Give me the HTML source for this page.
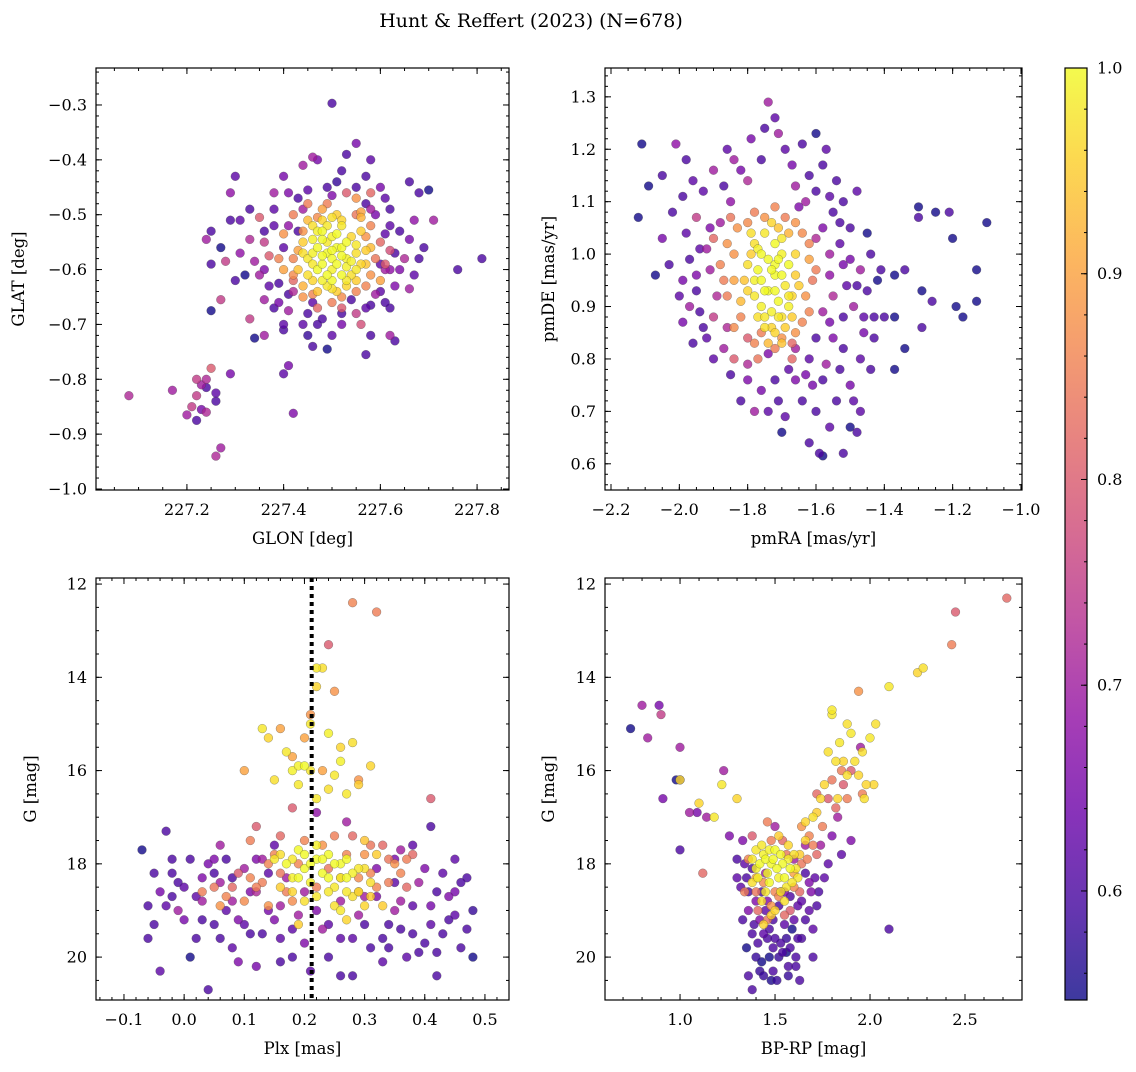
<!DOCTYPE html>
<html><head><meta charset="utf-8"><style>
body{margin:0;background:#fff}
svg text{font-family:"DejaVu Serif","Liberation Serif",serif;fill:#000}
</style></head><body>
<svg id="fig" width="1136" height="1067" viewBox="0 0 1136 1067" xmlns="http://www.w3.org/2000/svg">
<defs><linearGradient id="cbg" x1="0" y1="1" x2="0" y2="0">
<stop offset="0" stop-color="#0d0887"/><stop offset="0.1" stop-color="#41049d"/><stop offset="0.2" stop-color="#6a00a8"/><stop offset="0.3" stop-color="#8f0da4"/><stop offset="0.4" stop-color="#b12a90"/><stop offset="0.5" stop-color="#cc4778"/><stop offset="0.6" stop-color="#e16462"/><stop offset="0.7" stop-color="#f2844b"/><stop offset="0.8" stop-color="#fca636"/><stop offset="0.9" stop-color="#fcce25"/><stop offset="1" stop-color="#f0f921"/>
</linearGradient></defs>
<text x="531" y="27" font-size="19" text-anchor="middle">Hunt &amp; Reffert (2023) (N=678)</text>
</svg>
<script>
const posStars=[[227.50,-0.297,0.6],[227.55,-0.37,0.65],[227.53,-0.39,0.6],[227.47,-0.40,0.65],[227.44,-0.41,0.7],[227.46,-0.395,0.7],[227.58,-0.40,0.62],[227.52,-0.42,0.6],[227.30,-0.43,0.62],[227.40,-0.43,0.65],[227.57,-0.43,0.6],[227.66,-0.44,0.6],[227.70,-0.455,0.55],[227.68,-0.46,0.6],[227.29,-0.46,0.68],[227.38,-0.46,0.7],[227.49,-0.45,0.6],[227.61,-0.47,0.62],[227.62,-0.49,0.6],[227.58,-0.49,0.7],[227.33,-0.49,0.6],[227.29,-0.51,0.6],[227.31,-0.51,0.62],[227.35,-0.505,0.8],[227.71,-0.51,0.7],[227.67,-0.51,0.68],[227.64,-0.53,0.6],[227.25,-0.53,0.6],[227.38,-0.52,0.62],[227.24,-0.545,0.7],[227.33,-0.545,0.72],[227.36,-0.55,0.75],[227.66,-0.545,0.65],[227.69,-0.56,0.6],[227.27,-0.56,0.55],[227.31,-0.57,0.68],[227.34,-0.585,0.7],[227.25,-0.59,0.6],[227.28,-0.585,0.75],[227.65,-0.58,0.72],[227.68,-0.58,0.6],[227.60,-0.59,0.62],[227.76,-0.60,0.6],[227.81,-0.58,0.6],[227.32,-0.61,0.55],[227.36,-0.60,0.66],[227.61,-0.60,0.7],[227.67,-0.61,0.62],[227.39,-0.625,0.6],[227.30,-0.62,0.6],[227.63,-0.63,0.66],[227.66,-0.635,0.7],[227.42,-0.64,0.72],[227.60,-0.64,0.62],[227.36,-0.655,0.7],[227.27,-0.655,0.75],[227.38,-0.67,0.6],[227.41,-0.675,0.7],[227.45,-0.68,0.6],[227.55,-0.68,0.75],[227.58,-0.665,0.6],[227.62,-0.67,0.6],[227.25,-0.675,0.55],[227.33,-0.69,0.75],[227.40,-0.70,0.62],[227.47,-0.70,0.6],[227.52,-0.70,0.65],[227.56,-0.70,0.78],[227.58,-0.72,0.6],[227.34,-0.725,0.55],[227.45,-0.72,0.58],[227.50,-0.72,0.62],[227.62,-0.72,0.7],[227.63,-0.73,0.6],[227.49,-0.745,0.55],[227.57,-0.755,0.6],[227.46,-0.74,0.6],[227.36,-0.72,0.7],[227.40,-0.71,0.6],[227.42,-0.862,0.66],[227.41,-0.775,0.65],[227.40,-0.79,0.62],[227.29,-0.79,0.65],[227.25,-0.78,0.8],[227.24,-0.80,0.72],[227.23,-0.81,0.7],[227.22,-0.80,0.75],[227.24,-0.815,0.6],[227.26,-0.825,0.62],[227.17,-0.82,0.7],[227.08,-0.83,0.72],[227.26,-0.84,0.6],[227.22,-0.83,0.75],[227.23,-0.855,0.65],[227.24,-0.86,0.72],[227.20,-0.865,0.7],[227.22,-0.875,0.6],[227.27,-0.925,0.7],[227.26,-0.94,0.72],[227.21,-0.85,0.75],
[227.40,-0.535,0.88],[227.42,-0.50,0.85],[227.45,-0.48,0.85],[227.55,-0.47,0.88],[227.58,-0.52,0.86],[227.60,-0.55,0.82],[227.58,-0.61,0.88],[227.55,-0.64,0.86],[227.50,-0.66,0.85],[227.44,-0.65,0.88],[227.42,-0.62,0.82],[227.39,-0.58,0.86],[227.43,-0.565,0.9],[227.56,-0.495,0.9],[227.37,-0.575,0.8],[227.62,-0.565,0.78],[227.52,-0.67,0.8],[227.47,-0.67,0.82],[227.40,-0.60,0.9],[227.60,-0.62,0.9],[227.53,-0.46,0.8],[227.48,-0.49,0.9],[227.58,-0.46,0.82],
[227.46,-0.52,0.97],[227.48,-0.53,1.0],[227.50,-0.54,0.99],[227.52,-0.52,0.98],[227.54,-0.54,0.96],[227.47,-0.56,1.0],[227.49,-0.57,1.0],[227.51,-0.56,1.0],[227.53,-0.58,0.99],[227.55,-0.57,0.97],[227.45,-0.58,0.98],[227.47,-0.60,1.0],[227.50,-0.60,0.99],[227.52,-0.61,1.0],[227.54,-0.61,0.97],[227.46,-0.62,0.96],[227.49,-0.63,0.98],[227.51,-0.64,0.95],[227.44,-0.55,0.95],[227.56,-0.53,0.95],[227.48,-0.51,0.96],[227.50,-0.58,1.0],[227.52,-0.56,1.0],[227.48,-0.59,1.0],[227.53,-0.595,0.99],[227.46,-0.545,0.99],[227.57,-0.59,0.94],[227.43,-0.60,0.94],[227.51,-0.50,0.95],[227.49,-0.55,0.98],[227.55,-0.60,0.98],[227.47,-0.64,0.94],[227.53,-0.63,0.96],[227.45,-0.51,0.93],[227.58,-0.56,0.93],[227.50,-0.62,1.0],[227.44,-0.63,0.92],[227.56,-0.505,0.92]];
const posStarsExtra=[[227.43,-0.47,0.6],[227.45,-0.455,0.62],[227.51,-0.44,0.58],[227.55,-0.45,0.6],[227.60,-0.45,0.65],[227.62,-0.52,0.62],[227.63,-0.57,0.6],[227.64,-0.60,0.66],[227.61,-0.66,0.6],[227.57,-0.67,0.62],[227.52,-0.68,0.6],[227.48,-0.69,0.6],[227.44,-0.70,0.62],[227.39,-0.66,0.65],[227.37,-0.63,0.62],[227.35,-0.61,0.7],[227.36,-0.53,0.6],[227.38,-0.49,0.62],[227.41,-0.46,0.66],[227.43,-0.53,0.6],[227.57,-0.48,0.6],[227.59,-0.50,0.65],[227.61,-0.535,0.62],[227.62,-0.60,0.68],[227.59,-0.645,0.7],[227.54,-0.655,0.6],[227.46,-0.66,0.62],[227.41,-0.645,0.6],[227.40,-0.56,0.62],[227.41,-0.52,0.68],[227.44,-0.49,0.7],[227.50,-0.465,0.66],
[227.42,-0.58,0.86],[227.44,-0.53,0.88],[227.47,-0.505,0.87],[227.57,-0.54,0.88],[227.59,-0.58,0.84],[227.57,-0.63,0.86],[227.52,-0.65,0.87],[227.46,-0.645,0.86],[227.42,-0.61,0.87],[227.55,-0.50,0.84],[227.49,-0.48,0.85],[227.61,-0.59,0.8],
[227.47,-0.53,0.99],[227.49,-0.52,0.98],[227.51,-0.535,1.0],[227.53,-0.55,1.0],[227.55,-0.555,0.98],[227.48,-0.545,1.0],[227.50,-0.565,1.0],[227.46,-0.57,0.99],[227.48,-0.575,1.0],[227.52,-0.575,1.0],[227.54,-0.585,0.99],[227.46,-0.59,0.98],[227.49,-0.61,1.0],[227.51,-0.59,1.0],[227.53,-0.62,0.98],[227.48,-0.62,0.99],[227.50,-0.635,0.97],[227.56,-0.59,0.96],[227.44,-0.57,0.97],[227.55,-0.62,0.95],[227.45,-0.61,0.97],[227.52,-0.51,0.96],[227.50,-0.505,0.97],[227.57,-0.565,0.95]];
const pmStars=[[-2.11,1.21,0.55],[-2.01,1.21,0.68],[-1.98,1.18,0.6],[-1.86,1.2,0.62],[-1.84,1.18,0.7],[-1.79,1.22,0.65],[-1.75,1.24,0.6],[-1.74,1.29,0.7],[-1.72,1.26,0.62],[-1.71,1.23,0.7],[-1.64,1.21,0.6],[-1.60,1.23,0.55],[-1.57,1.20,0.62],[-1.67,1.17,0.65],[-1.62,1.15,0.6],[-1.96,1.14,0.62],[-2.05,1.15,0.6],[-2.09,1.13,0.55],[-1.90,1.16,0.7],[-1.80,1.14,0.72],[-1.54,1.14,0.6],[-1.52,1.10,0.6],[-1.48,1.12,0.62],[-1.55,1.08,0.6],[-2.12,1.07,0.55],[-2.02,1.08,0.6],[-1.95,1.07,0.75],[-1.98,1.04,0.62],[-2.05,1.03,0.65],[-1.92,1.01,0.7],[-1.97,0.99,0.6],[-2.03,0.98,0.6],[-2.07,0.96,0.55],[-1.99,0.95,0.65],[-1.95,0.93,0.6],[-1.91,0.97,0.7],[-1.89,0.92,0.72],[-1.94,0.89,0.6],[-1.99,0.87,0.65],[-1.96,0.83,0.6],[-1.92,0.84,0.62],[-1.87,0.82,0.7],[-1.84,0.80,0.8],[-1.80,0.79,0.72],[-1.76,0.74,0.65],[-1.78,0.70,0.7],[-1.82,0.72,0.6],[-1.72,0.76,0.6],[-1.69,0.69,0.62],[-1.70,0.66,0.55],[-1.64,0.72,0.6],[-1.61,0.75,0.65],[-1.60,0.70,0.6],[-1.59,0.62,0.6],[-1.58,0.615,0.55],[-1.56,0.67,0.62],[-1.52,0.62,0.6],[-1.54,0.72,0.6],[-1.50,0.67,0.55],[-1.48,0.66,0.6],[-1.47,0.70,0.62],[-1.50,0.75,0.65],[-1.53,0.78,0.6],[-1.57,0.79,0.7],[-1.52,0.82,0.6],[-1.47,0.80,0.62],[-1.44,0.78,0.6],[-1.46,0.85,0.65],[-1.43,0.88,0.6],[-1.49,0.90,0.7],[-1.45,0.93,0.6],[-1.42,0.95,0.55],[-1.41,0.97,0.6],[-1.47,0.97,0.7],[-1.50,0.99,0.65],[-1.44,1.00,0.6],[-1.53,1.02,0.62],[-1.50,1.05,0.6],[-1.45,1.04,0.55],[-1.37,0.96,0.55],[-1.34,0.97,0.6],[-1.37,0.88,0.55],[-1.37,0.78,0.55],[-1.30,1.09,0.55],[-1.30,1.07,0.6],[-1.25,1.08,0.55],[-1.21,1.08,0.6],[-1.20,1.03,0.55],[-1.29,0.93,0.55],[-1.26,0.91,0.6],[-1.29,0.86,0.6],[-1.19,0.90,0.55],[-1.17,0.88,0.55],[-1.13,0.91,0.55],[-1.13,0.97,0.55],[-1.10,1.06,0.55],[-1.34,0.82,0.55],[-1.40,0.88,0.6],[-1.56,0.87,0.65],[-1.60,0.84,0.6],[-1.66,0.82,0.7],[-1.62,0.80,0.62],[-1.68,0.78,0.62],[-1.74,0.81,0.66],[-1.60,1.12,0.6],[-1.65,1.09,0.66],[-1.85,1.10,0.68],[-1.88,1.06,0.7],[-1.60,1.03,0.72],[-1.56,0.96,0.68],[-1.55,0.92,0.72],[-1.58,0.89,0.7],[-1.86,0.86,0.72],[-1.90,0.88,0.75],
[-1.83,1.05,0.88],[-1.78,1.08,0.85],[-1.72,1.09,0.86],[-1.66,1.06,0.88],[-1.62,1.02,0.86],[-1.60,0.97,0.85],[-1.63,0.92,0.88],[-1.64,0.87,0.86],[-1.70,0.84,0.88],[-1.76,0.85,0.85],[-1.82,0.88,0.86],[-1.86,0.92,0.85],[-1.88,0.98,0.86],[-1.86,1.02,0.88],[-1.80,0.84,0.8],[-1.67,0.83,0.82],[-1.84,0.95,0.9],[-1.62,0.99,0.9],[-1.68,1.04,0.92],[-1.90,1.03,0.82],
[-1.78,1.02,0.97],[-1.75,1.04,0.98],[-1.72,1.02,1.0],[-1.70,1.00,0.99],[-1.68,0.98,1.0],[-1.74,0.99,1.0],[-1.77,0.97,1.0],[-1.80,0.98,0.97],[-1.76,0.95,1.0],[-1.72,0.96,1.0],[-1.69,0.94,0.98],[-1.74,0.93,1.0],[-1.78,0.92,0.98],[-1.71,0.91,1.0],[-1.67,0.92,0.96],[-1.73,0.89,0.99],[-1.70,0.88,0.97],[-1.76,0.90,0.99],[-1.69,0.86,0.95],[-1.73,0.86,0.96],[-1.79,1.00,0.95],[-1.66,0.96,0.95],[-1.81,0.95,0.94],[-1.71,1.05,0.94],[-1.75,0.88,0.98],[-1.68,0.90,0.99],[-1.74,0.83,0.93],[-1.77,1.01,0.99],[-1.72,0.98,1.0],[-1.82,0.91,0.93]];
const pmStarsExtra=[[-1.93,1.12,0.62],[-1.82,1.16,0.65],[-1.76,1.18,0.6],[-1.69,1.20,0.62],[-1.66,1.13,0.7],[-1.58,1.17,0.6],[-1.56,1.11,0.62],[-1.53,1.06,0.6],[-1.52,0.98,0.65],[-1.51,0.94,0.62],[-1.52,0.88,0.6],[-1.55,0.84,0.66],[-1.58,0.76,0.6],[-1.63,0.77,0.65],[-1.71,0.72,0.6],[-1.74,0.70,0.62],[-1.80,0.76,0.66],[-1.85,0.77,0.6],[-1.90,0.80,0.62],[-1.93,0.86,0.6],[-1.95,0.96,0.66],[-1.94,1.01,0.62],[-1.91,1.05,0.66],[-1.87,1.13,0.6],[-1.99,1.11,0.6],[-2.00,0.92,0.62],[-1.97,0.90,0.7],[-1.46,0.88,0.62],[-1.48,0.94,0.6],[-1.43,0.84,0.6],[-1.49,0.72,0.62],[-1.62,0.64,0.6],[-1.66,0.76,0.66],[-1.56,1.00,0.7],[-1.58,1.05,0.66],[-1.63,1.10,0.7],
[-1.85,1.07,0.84],[-1.80,1.06,0.87],[-1.75,1.07,0.88],[-1.69,1.07,0.85],[-1.64,1.04,0.87],[-1.61,0.95,0.84],[-1.62,0.89,0.86],[-1.66,0.85,0.88],[-1.72,0.82,0.85],[-1.78,0.83,0.86],[-1.84,0.86,0.87],[-1.87,0.95,0.85],[-1.84,1.00,0.88],[-1.67,0.80,0.82],[-1.77,0.80,0.84],
[-1.79,1.04,0.97],[-1.73,1.06,0.96],[-1.70,1.03,0.98],[-1.66,1.00,0.96],[-1.76,1.00,1.0],[-1.71,0.99,1.0],[-1.73,0.97,1.0],[-1.70,0.96,1.0],[-1.78,0.95,0.99],[-1.75,0.93,1.0],[-1.72,0.93,1.0],[-1.68,0.92,0.98],[-1.77,0.88,0.97],[-1.71,0.88,0.98],[-1.72,0.85,0.96],[-1.67,0.88,0.95],[-1.80,0.93,0.96],[-1.65,0.94,0.95],[-1.75,0.86,0.97],[-1.70,0.83,0.94]];
const plxStars=[[-0.07,17.7,0.55],[-0.06,18.9,0.6],[-0.05,19.3,0.6],[-0.04,18.6,0.65],[-0.03,17.3,0.6],[-0.04,20.3,0.62],[-0.02,18.2,0.6],[-0.01,19.0,0.7],[0.00,18.5,0.62],[0.01,17.9,0.6],[0.02,19.6,0.6],[0.01,20.0,0.55],[0.03,18.8,0.7],[0.04,18.0,0.65],[0.04,20.7,0.6],[0.05,19.3,0.6],[0.06,18.4,0.7],[0.07,17.9,0.6],[0.08,19.8,0.62],[0.08,18.8,0.7],[0.09,19.2,0.66],[0.10,18.1,0.7],[0.11,19.5,0.6],[0.12,20.2,0.65],[0.12,18.6,0.72],[0.14,19.0,0.65],[0.15,17.6,0.62],[0.16,19.6,0.62],[0.17,18.3,0.7],[0.18,20.0,0.6],[0.19,19.1,0.7],[0.20,19.7,0.66],[0.21,20.3,0.62],[0.23,19.4,0.7],[0.24,20.0,0.6],[0.26,19.6,0.62],[0.28,20.4,0.6],[0.29,19.1,0.7],[0.30,18.7,0.7],[0.31,19.8,0.6],[0.32,18.1,0.66],[0.33,20.1,0.62],[0.34,19.3,0.6],[0.35,17.9,0.65],[0.36,18.8,0.7],[0.37,20.0,0.62],[0.38,19.5,0.6],[0.38,17.6,0.62],[0.39,18.4,0.7],[0.40,19.7,0.6],[0.41,18.9,0.65],[0.41,17.2,0.6],[0.42,20.4,0.6],[0.43,18.2,0.62],[0.44,19.2,0.6],[0.45,18.6,0.65],[0.46,19.8,0.6],[0.47,18.3,0.6],[0.48,19.0,0.58],[0.48,20.0,0.55],[0.42,19.9,0.6],[0.45,17.9,0.62],[-0.06,19.6,0.6],[0.00,19.2,0.65],[0.06,17.6,0.7],[0.09,20.1,0.66],[0.13,17.9,0.7],[0.27,17.1,0.7],[0.22,16.9,0.68],[0.41,16.6,0.8],[0.26,20.4,0.6],[0.05,18.2,0.6],[-0.02,17.9,0.6],[0.44,18.7,0.66],[0.35,19.0,0.7],[0.16,18.9,0.7],
[0.03,18.6,0.85],[0.06,18.9,0.88],[0.08,18.5,0.82],[0.09,18.2,0.8],[0.10,16.0,0.9],[0.11,17.5,0.85],[0.12,17.2,0.8],[0.13,18.4,0.85],[0.14,18.9,0.88],[0.15,17.8,0.86],[0.16,17.4,0.82],[0.17,18.6,0.85],[0.18,16.8,0.8],[0.19,18.0,0.86],[0.20,15.3,0.9],[0.21,14.8,0.88],[0.22,18.5,0.85],[0.23,17.6,0.88],[0.25,14.3,0.88],[0.24,13.3,0.8],[0.26,18.3,0.86],[0.28,17.4,0.82],[0.29,18.6,0.85],[0.30,17.8,0.88],[0.31,18.2,0.86],[0.32,12.6,0.85],[0.33,17.6,0.82],[0.34,18.4,0.85],[0.35,18.0,0.88],[0.37,18.5,0.82],[0.28,12.4,0.86],[0.38,17.8,0.82],[0.16,15.1,0.9],[0.18,15.7,0.9],
[0.13,15.1,0.98],[0.14,15.3,0.96],[0.15,16.2,0.97],[0.17,15.6,0.98],[0.18,16.0,0.99],[0.19,16.3,0.98],[0.20,15.9,1.0],[0.21,15.0,0.98],[0.22,14.2,0.96],[0.23,13.8,0.97],[0.22,16.6,0.98],[0.24,15.2,0.99],[0.25,16.1,0.98],[0.26,15.8,0.99],[0.27,16.5,0.98],[0.28,15.4,0.97],[0.29,16.3,0.95],[0.31,15.9,0.96],[0.22,13.8,0.98],[0.15,17.9,0.98],[0.17,18.0,1.0],[0.18,18.3,0.99],[0.19,17.7,1.0],[0.20,18.1,1.0],[0.21,18.4,0.99],[0.22,17.9,1.0],[0.23,18.2,1.0],[0.24,17.8,1.0],[0.25,18.5,0.98],[0.26,18.0,1.0],[0.27,18.3,1.0],[0.28,18.7,0.97],[0.29,18.1,0.98],[0.30,18.9,0.96],[0.31,18.4,0.97],[0.32,17.8,0.95],[0.26,19.0,0.98],[0.20,18.8,0.97],[0.24,18.6,0.98],[0.27,19.2,0.96],[0.16,18.5,0.95],[0.22,17.6,0.99],[0.30,17.5,0.94],[0.33,18.9,0.95],[0.19,19.3,0.95]];
const plxStarsExtra=[[-0.05,18.2,0.6],[-0.03,18.9,0.62],[-0.01,18.4,0.6],[0.02,18.7,0.62],[0.03,19.2,0.6],[0.05,17.9,0.66],[0.07,19.0,0.62],[0.08,18.3,0.6],[0.10,19.3,0.62],[0.11,18.6,0.66],[0.13,19.5,0.6],[0.14,18.2,0.62],[0.16,20.1,0.6],[0.18,19.4,0.62],[0.20,18.6,0.7],[0.22,19.0,0.66],[0.24,19.3,0.62],[0.26,18.8,0.7],[0.28,19.6,0.62],[0.30,19.3,0.6],[0.32,18.7,0.66],[0.33,19.6,0.6],[0.35,18.4,0.62],[0.36,19.4,0.6],[0.38,18.9,0.62],[0.39,19.9,0.6],[0.40,18.1,0.66],[0.42,18.6,0.6],[0.43,19.5,0.6],[0.45,19.1,0.62],[0.46,18.4,0.6],[0.47,19.4,0.6],[0.03,18.3,0.66],[0.12,17.9,0.66],[0.36,17.7,0.7],[0.41,19.3,0.62],[-0.02,18.7,0.6],[0.06,19.6,0.6],[0.15,19.2,0.66],[0.34,19.8,0.6],
[0.05,18.5,0.84],[0.07,18.7,0.86],[0.10,18.8,0.87],[0.12,18.5,0.85],[0.14,18.0,0.86],[0.16,18.2,0.84],[0.18,18.8,0.87],[0.20,17.5,0.86],[0.24,18.1,0.84],[0.27,17.8,0.86],[0.29,18.3,0.87],[0.31,17.6,0.84],[0.32,18.5,0.86],[0.34,17.9,0.84],[0.36,18.2,0.86],[0.37,17.9,0.85],[0.11,18.3,0.86],[0.25,17.4,0.85],[0.29,16.2,0.88],[0.23,16.0,0.9],
[0.16,17.8,0.97],[0.18,17.9,0.98],[0.19,18.3,1.0],[0.20,17.8,1.0],[0.21,18.0,1.0],[0.23,17.9,1.0],[0.24,18.3,1.0],[0.25,18.0,1.0],[0.26,18.3,0.99],[0.27,17.9,1.0],[0.28,18.2,0.99],[0.29,18.6,0.97],[0.30,18.1,0.97],[0.22,18.7,0.98],[0.25,18.9,0.97],[0.18,18.6,0.96],[0.31,18.7,0.95],[0.27,18.6,0.98],[0.21,16.0,0.98],[0.24,16.4,0.97],[0.19,15.9,0.99],[0.26,15.5,0.96]];
const cmdStars=[[0.74,15.1,0.55],[0.80,14.6,0.7],[0.83,15.3,0.7],[0.89,14.6,0.65],[0.91,16.6,0.65],[0.98,16.2,0.55],[1.00,16.2,0.6],[1.00,17.7,0.6],[1.00,15.5,0.7],[1.05,16.9,0.7],[1.09,16.9,0.65],[1.14,17.0,0.7],[1.23,16.0,0.7],[1.26,17.4,0.66],[1.30,17.9,0.6],[1.32,18.5,0.62],[1.33,19.2,0.6],[1.35,19.8,0.55],[1.36,20.4,0.6],[1.38,20.7,0.6],[1.40,18.8,0.66],[1.42,20.3,0.58],[1.44,19.5,0.62],[1.45,18.2,0.7],[1.47,20.0,0.55],[1.49,19.2,0.6],[1.50,17.2,0.7],[1.51,20.5,0.58],[1.53,19.7,0.6],[1.55,18.6,0.66],[1.57,20.2,0.6],[1.59,19.4,0.55],[1.61,20.0,0.6],[1.62,18.9,0.62],[1.64,19.6,0.6],[1.66,17.6,0.7],[1.68,18.4,0.66],[1.70,19.4,0.62],[1.72,18.9,0.6],[1.74,17.6,0.7],[1.78,18.0,0.62],[1.83,17.0,0.7],[1.90,17.5,0.66],[2.10,19.4,0.6],[1.95,15.5,0.7],[1.36,19.0,0.66],[1.38,18.1,0.6],[1.46,19.6,0.6],[1.56,19.9,0.55],[1.63,20.5,0.6],[1.52,18.9,0.6],[1.43,18.6,0.6],[1.60,17.9,0.7],[1.33,17.5,0.66],[1.70,20.0,0.6],[1.49,20.3,0.6],[1.58,18.7,0.6],[1.42,19.2,0.66],[1.66,18.2,0.6],[1.55,19.3,0.62],
[0.90,14.8,0.75],[1.12,18.2,0.82],[1.34,18.6,0.85],[1.38,17.4,0.8],[1.41,19.0,0.82],[1.46,17.1,0.85],[1.50,18.6,0.86],[1.54,17.5,0.82],[1.58,19.0,0.8],[1.63,18.6,0.82],[1.67,17.9,0.85],[1.72,16.5,0.82],[1.75,17.2,0.85],[1.78,16.6,0.8],[1.82,16.8,0.82],[1.85,16.0,0.85],[1.86,16.3,0.8],[1.90,16.0,0.8],[1.94,14.3,0.88],[1.96,16.5,0.85],[2.45,12.6,0.8],[2.72,12.3,0.82],[2.43,13.3,0.85],[1.64,17.2,0.88],[1.48,18.9,0.88],[1.70,17.6,0.85],[1.40,18.3,0.9],[1.60,18.2,0.9],
[1.00,16.2,0.97],[1.10,16.7,0.96],[1.18,17.0,0.98],[1.22,16.3,0.98],[1.30,16.6,0.96],[1.40,17.7,0.98],[1.42,18.0,1.0],[1.44,17.8,0.99],[1.46,18.2,1.0],[1.48,18.0,1.0],[1.50,17.7,1.0],[1.52,18.3,0.99],[1.54,18.0,1.0],[1.56,18.5,0.98],[1.58,18.1,1.0],[1.60,17.8,0.97],[1.62,18.3,0.98],[1.45,18.6,0.98],[1.50,19.0,0.96],[1.55,18.8,0.97],[1.38,18.4,0.97],[1.48,19.1,0.95],[1.52,17.4,0.95],[1.66,17.5,0.96],[1.70,17.0,0.97],[1.72,16.9,0.95],[1.76,16.3,0.96],[1.78,15.6,0.97],[1.80,14.8,0.98],[1.80,14.7,0.98],[1.84,15.4,0.98],[1.86,15.8,0.96],[1.88,16.1,0.97],[1.90,15.2,0.98],[1.92,15.8,0.97],[1.94,16.1,0.96],[2.00,15.3,0.98],[2.03,15.0,0.97],[2.02,16.3,0.96],[2.10,14.2,0.98],[2.25,13.9,0.96],[2.28,13.8,0.97],[1.97,16.6,0.97],[1.88,15.0,0.97],[1.83,16.6,0.96],[1.44,19.3,0.96]];
const cmdStarsExtra=[[1.34,18.0,0.62],[1.36,18.6,0.6],[1.38,19.5,0.6],[1.40,20.0,0.58],[1.41,19.7,0.6],[1.43,20.1,0.55],[1.45,19.0,0.62],[1.47,19.4,0.6],[1.48,20.5,0.56],[1.50,19.6,0.6],[1.52,20.0,0.58],[1.53,18.6,0.66],[1.54,19.9,0.6],[1.56,19.6,0.58],[1.58,19.8,0.6],[1.60,19.2,0.62],[1.62,19.6,0.6],[1.64,18.8,0.62],[1.66,19.2,0.6],[1.68,19.0,0.62],[1.69,18.6,0.66],[1.71,18.3,0.62],[1.73,18.6,0.6],[1.39,19.3,0.6],[1.44,20.4,0.58],[1.57,20.4,0.58],[1.61,20.2,0.6],[1.46,18.8,0.66],[1.35,18.3,0.6],[1.49,19.8,0.6],[1.30,18.3,0.62],[1.76,18.3,0.62],[1.80,17.4,0.66],[1.85,17.8,0.62],
[1.36,17.9,0.86],[1.40,18.6,0.84],[1.44,18.4,0.87],[1.48,17.5,0.85],[1.52,18.7,0.86],[1.56,17.8,0.84],[1.60,18.5,0.86],[1.64,18.0,0.84],[1.68,17.4,0.86],[1.72,17.8,0.82],[1.46,19.2,0.84],[1.55,19.1,0.82],[1.80,16.2,0.84],[1.88,16.6,0.85],
[1.38,17.9,0.98],[1.41,18.3,0.99],[1.43,17.6,0.98],[1.45,17.9,1.0],[1.47,18.4,1.0],[1.49,17.9,1.0],[1.51,18.1,1.0],[1.53,17.8,1.0],[1.55,18.3,1.0],[1.57,17.9,0.99],[1.59,18.4,0.98],[1.61,18.1,0.98],[1.43,18.8,0.97],[1.53,18.6,0.98],[1.47,17.7,0.99],[1.57,17.6,0.96],[1.63,17.8,0.95],[1.40,18.1,0.99],[1.66,17.1,0.96],[1.74,16.6,0.96],[1.82,15.8,0.97],[1.96,15.6,0.97],[1.98,16.3,0.96]];
const plxRef=[0.212];
const cbTicks=[0.6,0.7,0.8,0.9,1.0];
const vmin=0.547,vmax=1.0;

const NS="http://www.w3.org/2000/svg";
const svg=document.getElementById('fig');
const stops=[[13,8,135],[65,4,157],[106,0,168],[143,13,164],[177,42,144],[204,71,120],[225,100,98],[242,132,75],[252,166,54],[252,206,37],[240,249,33]];
function cmap(p){let t=Math.max(0,Math.min(1,(p-vmin)/(vmax-vmin)))*10;let i=Math.min(9,Math.floor(t)),f=t-i;const a=stops[i],b=stops[i+1];return `rgb(${a.map((v,k)=>Math.round(v+(b[k]-v)*f)).join(',')})`;}
function mk(tag,attrs,parent){const e=document.createElementNS(NS,tag);for(const k in attrs)e.setAttribute(k,attrs[k]);(parent||svg).appendChild(e);return e;}
function fmt(v,d){return v.toFixed(d).replace('-','\u2212');}

function panel(o){
  const g=mk('g',{});
  
  
  const sx=v=>o.L+(v-o.x0)/(o.x1-o.x0)*(o.R-o.L);
  const sy=v=>o.B-(v-o.y0)/(o.y1-o.y0)*(o.B-o.T);
  const cid='clip-'+o.name;
  const cp=mk('clipPath',{id:cid},g);mk('rect',{x:o.L,y:o.T,width:o.R-o.L,height:o.B-o.T},cp);
  const pg=mk('g',{'clip-path':`url(#${cid})`},g);
  
  
  const pts=o.data.slice().sort((a,b)=>a[2]-b[2]);
  pts.forEach(d=>{
    const c=mk('circle',{cx:sx(d[0]).toFixed(1),cy:sy(d[1]).toFixed(1),r:4.4,fill:cmap(d[2]),'fill-opacity':0.8,stroke:'rgba(70,70,70,0.55)','stroke-width':0.5},pg);
    
    
  });
  if(o.vline){o.vline.forEach(v=>{const l=mk('line',{x1:sx(v),x2:sx(v),y1:o.T,y2:o.B,stroke:'#000','stroke-width':4,'stroke-dasharray':'4 4'},g);
    
    });}
  const eps=1e-9;
  const xlo=Math.min(o.x0,o.x1),xhi=Math.max(o.x0,o.x1),ylo=Math.min(o.y0,o.y1),yhi=Math.max(o.y0,o.y1);
  function ticksX(step,len,lab){const n0=Math.ceil(xlo/step-eps),n1=Math.floor(xhi/step+eps);for(let n=n0;n<=n1;n++){const v=n*step,x=sx(v);
    mk('line',{x1:x,x2:x,y1:o.B,y2:o.B-len,stroke:'#000','stroke-width':1},g);mk('line',{x1:x,x2:x,y1:o.T,y2:o.T+len,stroke:'#000','stroke-width':1},g);
    if(lab){const t=mk('text',{x:x,y:o.B+25,'font-size':16,'text-anchor':'middle'},g);t.textContent=fmt(v,o.xd);
      
      }}}
  function ticksY(step,len,lab){const n0=Math.ceil(ylo/step-eps),n1=Math.floor(yhi/step+eps);for(let n=n0;n<=n1;n++){const v=n*step,y=sy(v);
    mk('line',{x1:o.L,x2:o.L+len,y1:y,y2:y,stroke:'#000','stroke-width':1},g);mk('line',{x1:o.R,x2:o.R-len,y1:y,y2:y,stroke:'#000','stroke-width':1},g);
    if(lab){const t=mk('text',{x:o.L-9,y:y+5.5,'font-size':16,'text-anchor':'end'},g);t.textContent=fmt(v,o.yd);
      
      }}}
  ticksX(o.xmin,3,false);ticksX(o.xmaj,6,true);ticksY(o.ymin,3,false);ticksY(o.ymaj,6,true);
  const fr=mk('rect',{x:o.L,y:o.T,width:o.R-o.L,height:o.B-o.T,fill:'none',stroke:'#000','stroke-width':1.2},g);
  
  
  const xl=mk('text',{x:(o.L+o.R)/2,y:o.B+54,'font-size':16.5,'text-anchor':'middle'},g);xl.textContent=o.xlab;
  
  
  const yl=mk('text',{x:0,y:0,'font-size':16.5,'text-anchor':'middle',transform:`translate(${o.ylx},${(o.T+o.B)/2}) rotate(-90)`},g);yl.textContent=o.ylab;
  
  
}
panel({name:'position-panel',data:posStars.concat(posStarsExtra),L:96,R:509,T:68,B:490,x0:227.012,x1:227.866,y0:-1.0018,y1:-0.2326,xmaj:0.2,xmin:0.05,ymaj:0.1,ymin:0.02,xd:1,yd:1,xlab:'GLON [deg]',ylab:'GLAT [deg]',ylx:24});
panel({name:'proper-motion-panel',data:pmStars.concat(pmStarsExtra),L:605,R:1022,T:68,B:490,x0:-2.2176,x1:-0.997,y0:0.550,y1:1.355,xmaj:0.2,xmin:0.05,ymaj:0.1,ymin:0.02,xd:1,yd:1,xlab:'pmRA [mas/yr]',ylab:'pmDE [mas/yr]',ylx:554});
panel({name:'parallax-panel',data:plxStars.concat(plxStarsExtra),L:96,R:509,T:578,B:1000,x0:-0.1465,x1:0.540,y0:20.92,y1:11.87,xmaj:0.1,xmin:0.02,ymaj:2,ymin:0.5,xd:1,yd:0,xlab:'Plx [mas]',ylab:'G [mag]',ylx:36,vline:plxRef});
panel({name:'cmd-panel',data:cmdStars.concat(cmdStarsExtra),L:605,R:1022,T:578,B:1000,x0:0.605,x1:2.80,y0:20.92,y1:11.87,xmaj:0.5,xmin:0.1,ymaj:2,ymin:0.5,xd:1,yd:0,xlab:'BP-RP [mag]',ylab:'G [mag]',ylx:554});

const cb=mk('g',{});


const CT=68,CB=1000,CL=1065,CR=1087;
mk('rect',{x:CL,y:CT,width:CR-CL,height:CB-CT,fill:'url(#cbg)','fill-opacity':0.8},cb);
mk('rect',{x:CL,y:CT,width:CR-CL,height:CB-CT,fill:'none',stroke:'#000','stroke-width':1.2},cb);
const cy=v=>CB-(v-vmin)/(vmax-vmin)*(CB-CT);
for(let n=28;n<=50;n++){const v=n*0.02;mk('line',{x1:CR,x2:CR-3,y1:cy(v),y2:cy(v),stroke:'#000'},cb);}
cbTicks.forEach(v=>{mk('line',{x1:CR,x2:CR-6,y1:cy(v),y2:cy(v),stroke:'#000'},cb);
  const t=mk('text',{x:CR+10,y:cy(v)+5.5,'font-size':16},cb);t.textContent=v.toFixed(1);
  
  });
</script>
</body></html>
